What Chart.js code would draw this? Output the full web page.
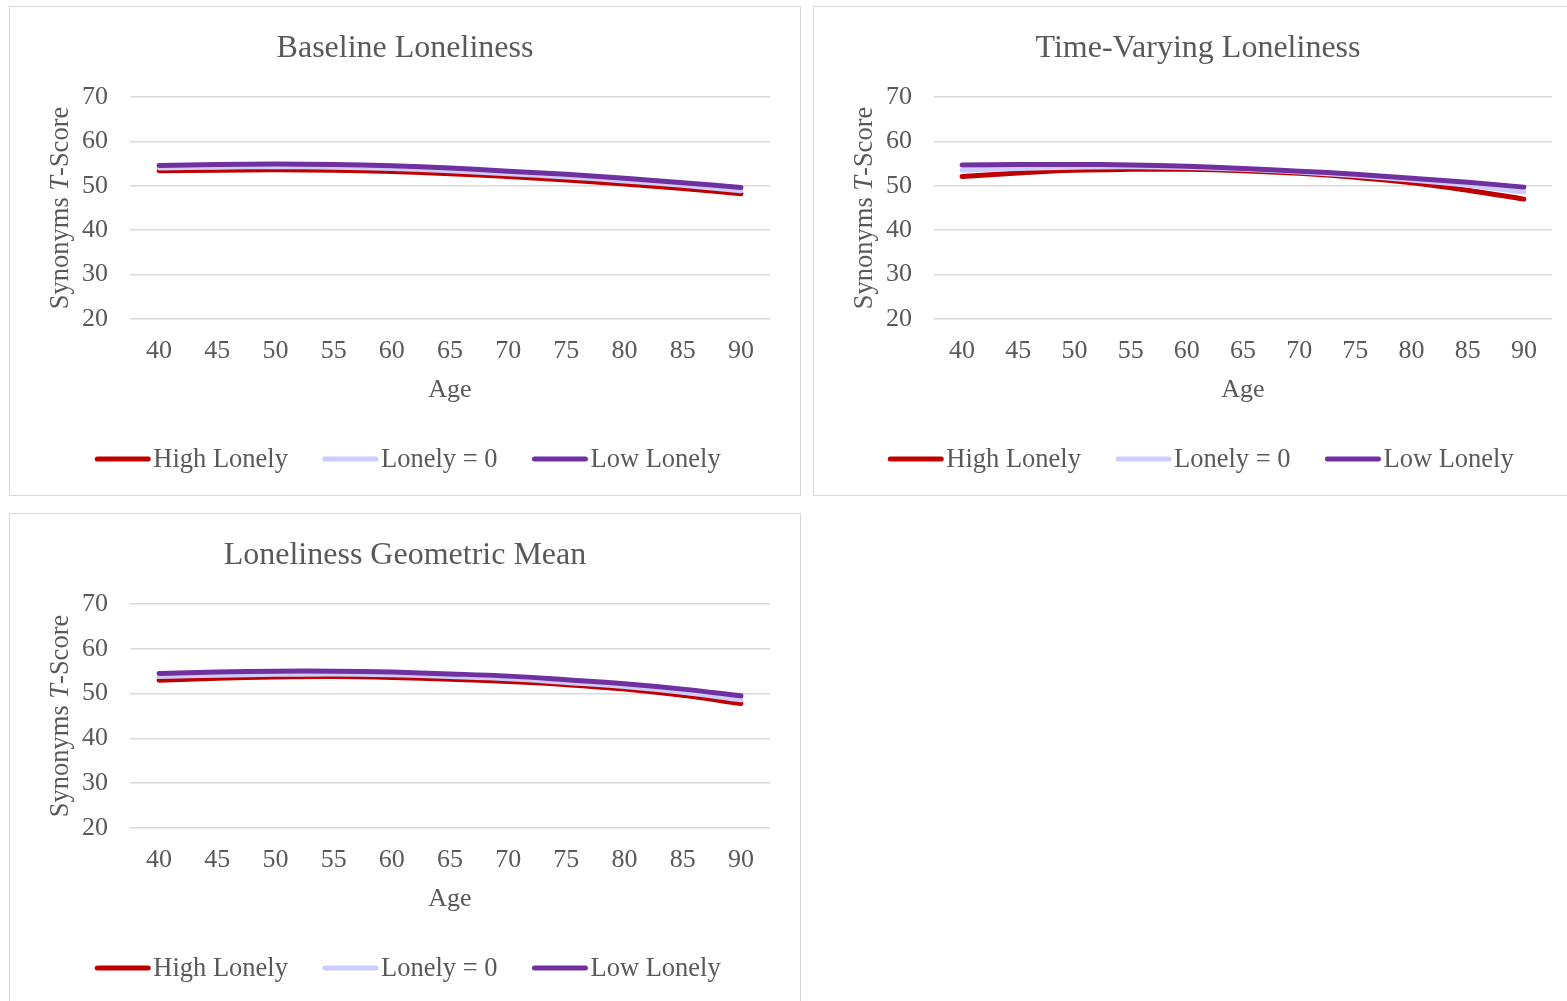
<!DOCTYPE html>
<html>
<head>
<meta charset="utf-8">
<script src="https://cdn.jsdelivr.net/npm/chart.js@4.4.0/dist/chart.umd.min.js"></script>
<style>
  body { margin: 0; background: #fff; overflow: hidden; }
  .panel { position: absolute; border: 1px solid #d9d9d9; box-sizing: border-box; background: #fff; }
  .panel canvas { display: block; }
</style>
</head>
<body>
<div class="panel" style="left:9px; top:6px; width:792px; height:490px;"><canvas id="c1"></canvas></div>
<div class="panel" style="left:813px; top:6px; width:770px; height:490px;"><canvas id="c2"></canvas></div>
<div class="panel" style="left:9px; top:513px; width:792px; height:492px;"><canvas id="c3"></canvas></div>
<script>
// ages on the x axis
const ages = ["40", "45", "50", "55", "60", "65", "70", "75", "80", "85", "90"]
const yTicks = [20, 30, 40, 50, 60, 70]

// Baseline Loneliness
const baseHigh = [53.4, 53.5, 53.6, 53.5, 53.2, 52.7, 52.1, 51.3, 50.4, 49.4, 48.2]
const baseZero = [54.0, 54.2, 54.3, 54.2, 53.9, 53.4, 52.7, 52.0, 51.1, 50.1, 48.9]
const baseLow = [54.6, 54.8, 54.9, 54.8, 54.5, 54.0, 53.3, 52.6, 51.7, 50.7, 49.6]

// Time-Varying Loneliness
const tvHigh = [52.1, 52.9, 53.5, 53.7, 53.7, 53.4, 52.8, 51.9, 50.7, 49.0, 47.0]
const tvZero = [53.5, 53.9, 54.2, 54.3, 54.1, 53.7, 53.1, 52.3, 51.3, 50.1, 48.6]
const tvLow = [54.7, 54.8, 54.8, 54.7, 54.4, 53.9, 53.3, 52.6, 51.7, 50.8, 49.7]

// Loneliness Geometric Mean
const gmHigh = [53.0, 53.4, 53.7, 53.8, 53.6, 53.2, 52.7, 52.0, 51.0, 49.6, 47.8]
const gmZero = [53.8, 54.1, 54.3, 54.4, 54.2, 53.8, 53.3, 52.5, 51.6, 50.3, 48.6]
const gmLow = [54.5, 54.8, 55.0, 55.0, 54.8, 54.4, 53.9, 53.1, 52.2, 51.0, 49.5]

const textColor = "#595959"
const gridColor = "#d9d9d9"
const fontFamily = "'Liberation Serif', 'Times New Roman', serif"

// title, y axis title (italic T) and legend drawn by hand
const decorPlugin = {
  id: "decor",
  afterDraw(chart) {
    const ctx = chart.ctx
    const area = chart.chartArea
    const w = chart.width

    // chart title, centred on the panel
    ctx.save()
    ctx.fillStyle = textColor
    ctx.font = "32px " + fontFamily
    ctx.textAlign = "center"
    ctx.textBaseline = "middle"
    ctx.fillText(chart.options.plugins.decor.title, w / 2, 42)
    ctx.restore()

    // y axis title
    const parts = [
      { t: "Synonyms ", f: "26.5px " + fontFamily },
      { t: "T", f: "italic 26.5px " + fontFamily },
      { t: "-Score", f: "26.5px " + fontFamily },
    ]
    let total = 0
    parts.forEach((p) => {
      ctx.font = p.f
      p.w = ctx.measureText(p.t).width
      total += p.w
    })
    ctx.save()
    ctx.translate(51, (area.top + area.bottom) / 2)
    ctx.rotate(-Math.PI / 2)
    ctx.fillStyle = textColor
    ctx.textBaseline = "middle"
    ctx.textAlign = "left"
    let x = -total / 2
    parts.forEach((p) => {
      ctx.font = p.f
      ctx.fillText(p.t, x, 0)
      x += p.w
    })
    ctx.restore()

    // legend: High, Lonely = 0, Low
    const sets = chart.data.datasets.slice().reverse()
    const lineLen = 55
    const gap = 3
    const itemGap = 35
    ctx.save()
    ctx.font = "26.5px " + fontFamily
    const widths = sets.map((d) => ctx.measureText(d.label).width)
    let full = 0
    widths.forEach((tw, i) => {
      full += lineLen + gap + tw + (i > 0 ? itemGap : 0)
    })
    let lx = w / 2 - full / 2 + 3
    const ly = area.bottom + 93 + 47
    ctx.textBaseline = "middle"
    ctx.textAlign = "left"
    sets.forEach((d, i) => {
      ctx.strokeStyle = d.borderColor
      ctx.lineWidth = 5
      ctx.lineCap = "round"
      ctx.beginPath()
      ctx.moveTo(lx + 2, ly)
      ctx.lineTo(lx + lineLen - 2, ly)
      ctx.stroke()
      ctx.fillStyle = textColor
      ctx.fillText(d.label, lx + lineLen + gap, ly + 1)
      lx += lineLen + gap + widths[i] + itemGap
    })
    ctx.restore()
  },
}

function makeChart(id, title, high, zero, low) {
  const el = document.getElementById(id)
  return new Chart(el, {
    type: "line",
    data: {
      labels: ages,
      datasets: [
        { label: "Low Lonely", data: low, borderColor: "#7030a0", backgroundColor: "#7030a0" },
        { label: "Lonely = 0", data: zero, borderColor: "#ccccff", backgroundColor: "#ccccff" },
        { label: "High Lonely", data: high, borderColor: "#c00000", backgroundColor: "#c00000" },
      ].map((d) => ({
        ...d,
        borderWidth: 5,
        borderCapStyle: "round",
        pointRadius: 0,
        tension: 0.4,
        fill: false,
      })),
    },
    options: {
      responsive: true,
      maintainAspectRatio: false,
      animation: false,
      layout: { padding: { left: 0, right: 30, top: 90, bottom: 83 } },
      plugins: {
        tooltip: { enabled: false },
        title: { display: false },
        legend: { display: false },
        decor: { title: title },
      },
      scales: {
        x: {
          offset: true,
          grid: { display: false, drawTicks: false },
          border: { display: false },
          ticks: {
            color: textColor,
            font: { family: fontFamily, size: 26 },
            padding: 17,
            maxRotation: 0,
            autoSkip: false,
          },
          title: {
            display: true,
            text: "Age",
            color: textColor,
            font: { family: fontFamily, size: 26 },
            padding: { top: 0, bottom: 6 },
          },
          afterFit(s) {
            s.height = 93
          },
        },
        y: {
          min: yTicks[0],
          max: yTicks[yTicks.length - 1],
          grid: { color: gridColor, lineWidth: 1.5, drawTicks: false },
          border: { display: false },
          afterBuildTicks(s) {
            s.ticks = yTicks.map((v) => ({ value: v }))
          },
          ticks: {
            color: textColor,
            font: { family: fontFamily, size: 26 },
            padding: 22,
          },
          afterFit(s) {
            s.width = 120
          },
        },
      },
    },
    plugins: [decorPlugin],
  })
}

makeChart("c1", "Baseline Loneliness", baseHigh, baseZero, baseLow)
makeChart("c2", "Time-Varying Loneliness", tvHigh, tvZero, tvLow)
makeChart("c3", "Loneliness Geometric Mean", gmHigh, gmZero, gmLow)
</script>
</body>
</html>
